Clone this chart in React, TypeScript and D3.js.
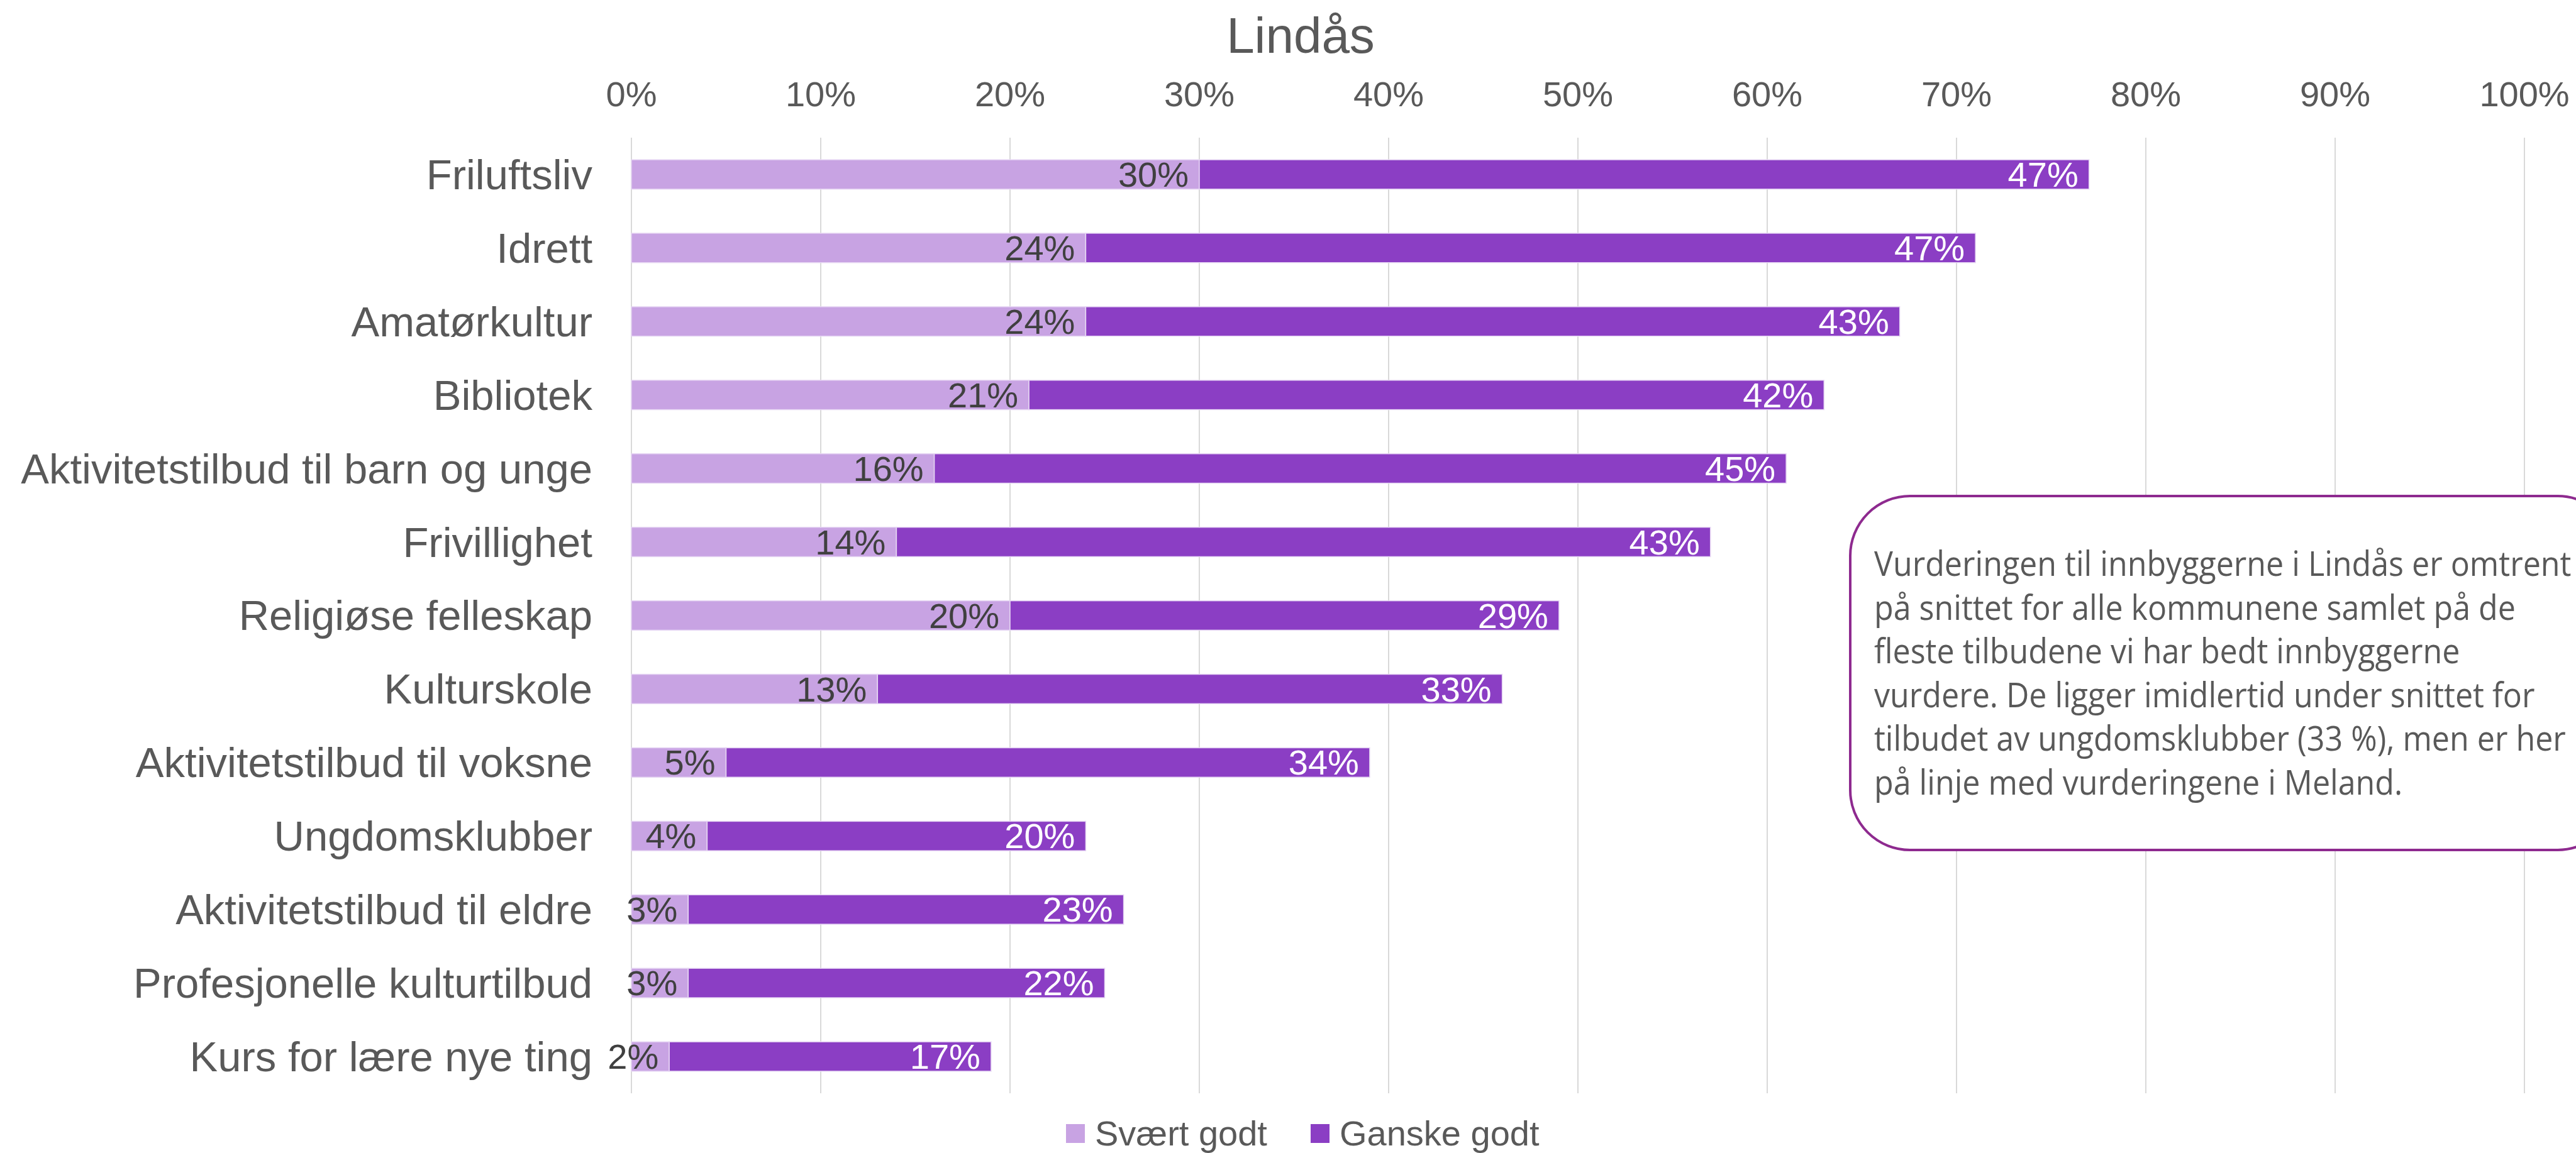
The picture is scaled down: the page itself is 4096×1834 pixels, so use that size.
import React, {useEffect, useRef} from 'react'
import * as d3 from 'd3';

const categories = [
  'Friluftsliv',
  'Idrett',
  'Amatørkultur',
  'Bibliotek',
  'Aktivitetstilbud til barn og unge',
  'Frivillighet',
  'Religiøse felleskap',
  'Kulturskole',
  'Aktivitetstilbud til voksne',
  'Ungdomsklubber',
  'Aktivitetstilbud til eldre',
  'Profesjonelle kulturtilbud',
  'Kurs for lære nye ting',
];
const svaertGodt = [30, 24, 24, 21, 16, 14, 20, 13, 5, 4, 3, 3, 2];
const ganskeGodt = [47, 47, 43, 42, 45, 43, 29, 33, 34, 20, 23, 22, 17];
const seriesNames = ['Svært godt', 'Ganske godt'];
const ticks = [0, 10, 20, 30, 40, 50, 60, 70, 80, 90, 100];
const title = 'Lindås';
const noteLines = [
  'Vurderingen til innbyggerne i Lindås er omtrent',
  'på snittet for alle kommunene samlet på de',
  'fleste tilbudene vi har bedt innbyggerne',
  'vurdere. De ligger imidlertid under snittet for',
  'tilbudet av ungdomsklubber (33 %), men er her',
  'på linje med vurderingene i Meland.',
];

export default function App() {
  const svgRef = useRef(null);
  useEffect(() => {
    const width = 4096;
    const height = 1834;
    const svg = d3.select(svgRef.current)
        .attr('width', width)
        .attr('height', height)
        .style('position', 'absolute')
        .style('left', 0)
        .style('top', 0)
        .style('background', '#fff')
        .style('font-family', 'Arial, "Liberation Sans", sans-serif');
    svg.selectAll('*').remove();

    const colors = ['#c8a3e3', '#8b3ec4'];
    const textColor = '#595959';

    // scales
    const x = d3.scaleLinear().domain([0, 100]).range([1004, 4014]);
    const y = d3.scaleBand().domain(categories).range([219, 1739]).paddingInner(0.6).paddingOuter(0.3);

    // title
    svg.append('text')
        .attr('x', 2068).attr('y', 84)
        .attr('text-anchor', 'middle')
        .attr('font-size', 80)
        .attr('fill', textColor)
        .text(title);

    // gridlines
    svg.append('g').selectAll('line')
        .data(ticks)
        .join('line')
          .attr('x1', d => x(d)).attr('x2', d => x(d))
          .attr('y1', 219).attr('y2', 1739)
          .attr('stroke', '#d9d9d9')
          .attr('stroke-width', 2);

    // top axis labels
    svg.append('g').selectAll('text')
        .data(ticks)
        .join('text')
          .attr('x', d => x(d))
          .attr('y', 169)
          .attr('text-anchor', 'middle')
          .attr('font-size', 56)
          .attr('fill', textColor)
          .text(d => d + '%');

    // category labels
    svg.append('g').selectAll('text')
        .data(categories)
        .join('text')
          .attr('x', 942)
          .attr('y', d => y(d) + y.bandwidth() / 2)
          .attr('dy', '0.35em')
          .attr('text-anchor', 'end')
          .attr('font-size', 67)
          .attr('fill', textColor)
          .text(d => d);

    // stacked bars
    const rows = categories.map((c, i) => ({cat: c, a: svaertGodt[i], b: ganskeGodt[i]}));
    const stacked = d3.stack().keys(['a', 'b'])(rows);
    stacked.forEach((layer, li) => {
      const g = svg.append('g');
      g.selectAll('rect')
          .data(layer)
          .join('rect')
            .attr('x', d => x(d[0]))
            .attr('y', d => y(d.data.cat))
            .attr('width', d => x(d[1]) - x(d[0]))
            .attr('height', y.bandwidth())
            .attr('fill', colors[li])
            .attr('stroke', '#e6d6f3')
            .attr('stroke-width', 1.5);
      g.selectAll('text')
          .data(layer)
          .join('text')
            .attr('x', d => x(d[1]) - 17)
            .attr('y', d => y(d.data.cat) + y.bandwidth() / 2)
            .attr('dy', '0.35em')
            .attr('text-anchor', 'end')
            .attr('font-size', 56)
            .attr('fill', li === 0 ? '#404040' : '#ffffff')
            .text(d => (d[1] - d[0]) + '%');
    });

    // note box
    const note = svg.append('g');
    note.append('rect')
        .attr('x', 2942).attr('y', 789)
        .attr('width', 1220).attr('height', 563)
        .attr('rx', 95).attr('ry', 95)
        .attr('fill', '#fff')
        .attr('stroke', '#8e2a8f')
        .attr('stroke-width', 4);
    const noteText = note.append('g');
    noteText.selectAll('text')
        .data(noteLines)
        .join('text')
          .attr('x', 0)
          .attr('y', (d, i) => i * 69.6)
          .attr('font-family', '"Open Sans", "Noto Sans", sans-serif')
          .attr('font-size', 55)
          .attr('fill', textColor)
          .text(d => d);
    const w2 = noteText.selectAll('text').nodes()[1].getComputedTextLength();
    const sx = 1020 / w2;
    noteText.attr('transform', `translate(2980, 916) scale(${sx}, 1)`);

    // legend
    const legendX = [1695, 2084];
    const legend = svg.append('g').selectAll('g')
        .data(seriesNames)
        .join('g')
          .attr('transform', (d, i) => `translate(${legendX[i]}, 1788)`);
    legend.append('rect')
        .attr('width', 30).attr('height', 30)
        .attr('fill', (d, i) => colors[i]);
    legend.append('text')
        .attr('x', 46).attr('y', 34)
        .attr('font-size', 56)
        .attr('fill', textColor)
        .text(d => d);
  }, []);
  return (
    <div>
        <svg ref={svgRef}></svg>
    </div>
  )
}
